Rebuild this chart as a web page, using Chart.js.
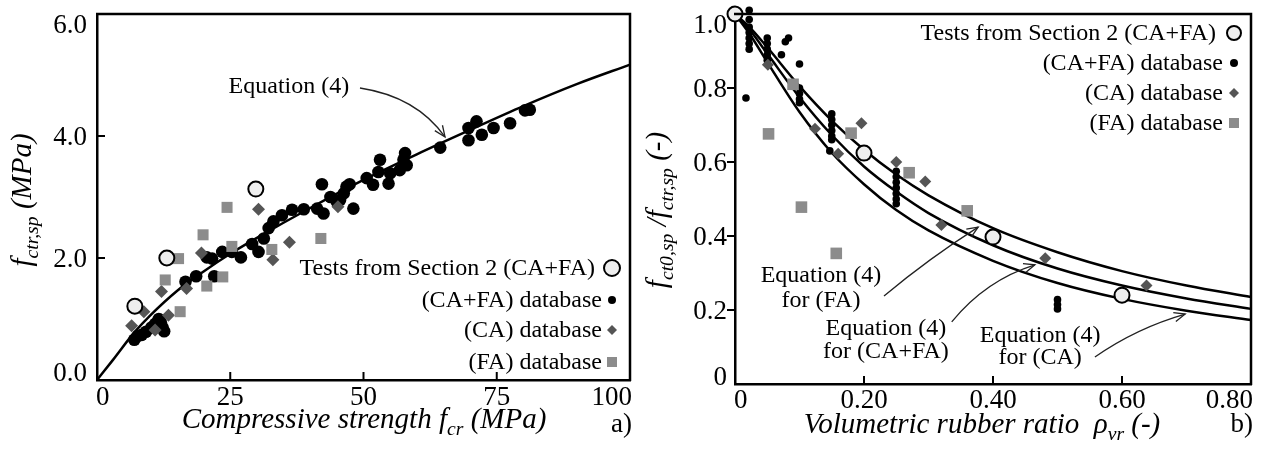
<!DOCTYPE html>
<html><head><meta charset="utf-8">
<script src="https://cdn.jsdelivr.net/npm/chart.js@4.4.1/dist/chart.umd.min.js"></script>
<style>
html,body{margin:0;padding:0;background:#fff;width:1263px;height:455px;overflow:hidden}
#wrap{position:relative;width:1263px;height:455px}
#c1{position:absolute;left:0;top:0}
#c2{position:absolute;left:632px;top:0}
</style></head><body>
<div id="wrap"><canvas id="c1" width="632" height="455"></canvas><canvas id="c2" width="631" height="455"></canvas></div>
<script>
// ---------- Panel a) data ----------
const eqAX = [0,3,7,10,15,20,25,30,40,50,60,70,80,90,100];
const eqAY = [0,0.33,0.78,1.06,1.46,1.78,2.07,2.33,2.82,3.28,3.70,4.10,4.49,4.85,5.17];
const testsA = [[7.1,1.21],[13.1,2.0],[29.8,3.13]];
const cafaA = [[7.0,0.66],[7.6,0.72],[8.4,0.74],[9.2,0.79],[10.2,0.86],[10.9,0.92],[11.6,1.0],[12.0,0.94],[12.3,0.86],[12.6,0.80],
  [16.6,1.61],[18.6,1.70],[20.6,2.01],[21.6,1.99],[22.0,1.70],[23.5,2.10],[25.3,2.10],[27.0,2.01],[29.1,2.23],[30.3,2.10],
  [31.3,2.32],[32.2,2.49],[33.1,2.60],[34.7,2.70],[36.6,2.79],[38.8,2.80],[41.3,2.81],[42.5,2.73],[42.2,3.21],[43.8,3.00],
  [45.0,2.92],[45.6,2.95],[46.3,3.06],[46.8,3.17],[47.4,3.21],[48.1,2.81],[50.6,3.31],[51.8,3.20],[52.8,3.41],[53.1,3.61],
  [54.7,3.22],[55.0,3.39],[56.8,3.44],[57.5,3.61],[57.8,3.72],[58.1,3.52],[64.4,3.81],[69.7,4.13],[71.2,4.24],[69.7,3.93],
  [72.2,4.02],[74.4,4.13],[77.5,4.21],[80.3,4.42],[81.2,4.43]];
const caA = [[6.5,0.89],[8.8,1.12],[10.9,0.82],[12.1,1.45],[13.4,1.06],[16.8,1.50],[19.6,2.08],[30.3,2.80],[33.0,1.97],[36.1,2.26],[45.2,2.84]];
const faA = [[12.8,1.64],[15.3,1.99],[15.6,1.12],[19.9,2.38],[20.6,1.54],[23.6,1.69],[24.4,2.83],[25.3,2.19],[32.8,2.14],[42.0,2.32]];
const xTicksA = [0,25,50,75,100];
const xLabelsA = ['0','25','50','75','100'];
const yTicksA = [0,2,4,6];
const yLabelsA = ['0.0','2.0','4.0','6.0'];

// ---------- Panel b) data ----------
const eqBX = [0,0.025,0.05,0.1,0.15,0.2,0.25,0.3,0.4,0.5,0.6,0.7,0.8];
const eqB_FA = [1.0,0.96,0.91,0.805,0.712,0.633,0.566,0.51,0.421,0.356,0.305,0.266,0.235];
const eqB_CAFA = [1.0,0.952,0.893,0.775,0.673,0.588,0.52,0.462,0.375,0.312,0.266,0.231,0.203];
const eqB_CA = [1.0,0.94,0.87,0.735,0.625,0.54,0.47,0.415,0.333,0.273,0.23,0.198,0.173];
const testsB = [[0,1.0],[0.2,0.624],[0.4,0.397],[0.6,0.24]];
const cafaB = [[0.022,1.01],[0.022,0.985],[0.022,0.965],[0.022,0.95],[0.022,0.935],[0.022,0.92],[0.022,0.905],[0.017,0.773],
  [0.05,0.935],[0.05,0.92],[0.05,0.905],[0.05,0.89],[0.05,0.875],[0.072,0.89],[0.078,0.925],[0.083,0.935],[0.1,0.865],
  [0.1,0.80],[0.1,0.785],[0.1,0.77],[0.1,0.76],
  [0.15,0.73],[0.15,0.715],[0.15,0.70],[0.15,0.685],[0.15,0.67],[0.15,0.66],[0.147,0.63],
  [0.25,0.575],[0.25,0.56],[0.25,0.545],[0.25,0.53],[0.25,0.515],[0.25,0.50],[0.25,0.487],
  [0.5,0.228],[0.5,0.215],[0.5,0.203]];
const caB = [[0.051,0.863],[0.124,0.69],[0.16,0.622],[0.196,0.705],[0.25,0.60],[0.295,0.547],[0.32,0.43],[0.481,0.34],[0.638,0.266]];
const faB = [[0.052,0.676],[0.09,0.81],[0.103,0.478],[0.157,0.353],[0.18,0.678],[0.27,0.571],[0.36,0.468]];
const xTicksB = [0,0.2,0.4,0.6,0.8];
const xLabelsB = ['0','0.20','0.40','0.60','0.80'];
const yTicksB = [0,0.2,0.4,0.6,0.8,1.0];
const yLabelsB = ['0','0.2','0.4','0.6','0.8','1.0'];

const legendLabels = ['Tests from Section 2 (CA+FA)','(CA+FA) database','(CA) database','(FA) database'];

// ---------- helpers ----------
const FONT = '"Liberation Serif","Times New Roman",serif';
const pts = a => a.map(p => ({x:p[0], y:p[1]}));
const line = (xs, ys) => xs.map((x,i) => ({x, y: ys[i]}));

function drawRich(ctx, segs, size, x, y, rot) {
  ctx.save();
  let total = 0;
  const ms = segs.map(s => {
    const fs = s.sub ? size*0.68 : size;
    const f = (s.it ? 'italic ' : '') + fs + 'px ' + FONT;
    ctx.font = f;
    const w = ctx.measureText(s.t).width;
    total += w;
    return {s, f, w, dy: s.sub ? size*0.24 : 0};
  });
  ctx.translate(x, y);
  if (rot) ctx.rotate(rot);
  let cx = -total/2;
  ctx.textBaseline = 'alphabetic'; ctx.textAlign = 'left'; ctx.fillStyle = '#000';
  ms.forEach(m => { ctx.font = m.f; ctx.fillText(m.s.t, cx, m.dy); cx += m.w; });
  ctx.restore();
}
function arrow(ctx, p0, c, p1) {
  ctx.save();
  ctx.strokeStyle = '#222'; ctx.lineWidth = 1.3;
  ctx.beginPath(); ctx.moveTo(p0.x, p0.y); ctx.quadraticCurveTo(c.x, c.y, p1.x, p1.y); ctx.stroke();
  const ang = Math.atan2(p1.y - c.y, p1.x - c.x), L = 12, a = 0.4;
  ctx.beginPath();
  ctx.moveTo(p1.x - L*Math.cos(ang - a), p1.y - L*Math.sin(ang - a));
  ctx.lineTo(p1.x, p1.y);
  ctx.lineTo(p1.x - L*Math.cos(ang + a), p1.y - L*Math.sin(ang + a));
  ctx.stroke();
  ctx.restore();
}
function marker(ctx, kind, x, y, s) {
  ctx.save();
  ctx.beginPath();
  if (kind === 'open') { ctx.arc(x, y, s.r, 0, Math.PI*2); ctx.fillStyle = '#eeeeee'; ctx.fill(); ctx.lineWidth = 2; ctx.strokeStyle = '#000'; ctx.stroke(); }
  else if (kind === 'dot') { ctx.arc(x, y, s.r, 0, Math.PI*2); ctx.fillStyle = '#000'; ctx.fill(); }
  else if (kind === 'dia') { ctx.moveTo(x, y - s.r); ctx.lineTo(x + s.r, y); ctx.lineTo(x, y + s.r); ctx.lineTo(x - s.r, y); ctx.closePath(); ctx.fillStyle = '#555'; ctx.fill(); }
  else { ctx.rect(x - s.r, y - s.r, 2*s.r, 2*s.r); ctx.fillStyle = '#8c8c8c'; ctx.fill(); }
  ctx.restore();
}

function decor(spec) {
  return {
    id: 'decor',
    afterDraw(chart) {
      const ctx = chart.ctx, a = chart.chartArea, sx = chart.scales.x, sy = chart.scales.y;
      ctx.save();
      // top and right frame
      ctx.strokeStyle = '#000'; ctx.lineWidth = 2.5;
      ctx.beginPath(); ctx.moveTo(a.left - 1, a.top); ctx.lineTo(a.right, a.top); ctx.lineTo(a.right, a.bottom + 1); ctx.stroke();
      // tick marks
      ctx.lineWidth = 2;
      spec.xTicks.forEach(v => { if (v === sx.min || v === sx.max) return; const px = sx.getPixelForValue(v);
        ctx.beginPath(); ctx.moveTo(px, a.bottom); ctx.lineTo(px, a.bottom - 8); ctx.stroke(); });
      spec.yTicks.forEach(v => { if (v === sy.min || v === sy.max) return; const py = sy.getPixelForValue(v);
        ctx.beginPath(); ctx.moveTo(a.left, py); ctx.lineTo(a.left + spec.yTickDir*8, py); ctx.stroke(); });
      // tick labels
      ctx.fillStyle = '#000'; ctx.font = spec.tickSize + 'px ' + FONT; ctx.textBaseline = 'alphabetic';
      ctx.textAlign = 'left';
      spec.xTicks.forEach((v, i) => { const t = spec.xLabels[i]; const w = ctx.measureText(t).width;
        let cx = sx.getPixelForValue(v); cx = Math.max(a.left + w/2 - 1, Math.min(a.right - w/2 + 2, cx));
        ctx.fillText(t, cx - w/2, spec.xLabelBase); });
      ctx.textAlign = 'right';
      spec.yTicks.forEach((v, i) => { let cy = sy.getPixelForValue(v); cy = Math.max(a.top + 10, Math.min(a.bottom - 7.5, cy));
        ctx.fillText(spec.yLabels[i], a.left - spec.yLabelGap, cy + 8.5); });
      // axis titles
      drawRich(ctx, spec.xTitle, spec.titleSize, spec.xTitlePos[0], spec.xTitlePos[1], 0);
      drawRich(ctx, spec.yTitle, spec.titleSize, spec.yTitlePos[0], spec.yTitlePos[1], -Math.PI/2);
      // panel letter
      ctx.font = '27px ' + FONT; ctx.textAlign = 'right';
      ctx.fillText(spec.letter, a.right + 2, spec.letterBase);
      // legend
      ctx.font = '24px ' + FONT; ctx.textAlign = 'right';
      const kinds = ['open','dot','dia','sq'];
      spec.legendY.forEach((y, i) => {
        const mx = a.right - spec.legendMarkOff;
        ctx.fillStyle = '#000';
        ctx.fillText(legendLabels[i], mx - (i === 0 ? spec.legendGap0 : spec.legendGap), y + 7);
        marker(ctx, kinds[i], mx, y, {r: spec.legendR[i]});
      });
      // annotations
      ctx.font = '24px ' + FONT; ctx.textAlign = 'center'; ctx.fillStyle = '#000';
      spec.notes.forEach(n => {
        n.lines.forEach((t, j) => ctx.fillText(t, sx.getPixelForValue(n.x), sy.getPixelForValue(n.base[j])));
        const P = q => ({x: sx.getPixelForValue(q[0]), y: sy.getPixelForValue(q[1])});
        arrow(ctx, P(n.arrow[0]), P(n.arrow[1]), P(n.arrow[2]));
      });
      ctx.restore();
    }
  };
}

function baseOptions(xmin, xmax, ymin, ymax, yW, xH, pad) {
  return {
    responsive: false, animation: false, devicePixelRatio: 1, events: [],
    layout: {padding: pad, autoPadding: false},
    plugins: {legend: {display: false}, tooltip: {enabled: false}},
    scales: {
      x: {type: 'linear', min: xmin, max: xmax, ticks: {display: false}, grid: {display: false},
          border: {display: true, color: '#000', width: 2.5}, afterFit: s => { s.height = xH; }},
      y: {type: 'linear', min: ymin, max: ymax, ticks: {display: false}, grid: {display: false},
          border: {display: true, color: '#000', width: 2.5}, afterFit: s => { s.width = yW; }}
    }
  };
}
const curve = (d) => ({data: d, showLine: true, pointRadius: 0, borderColor: '#000', borderWidth: 2.5, fill: false, cubicInterpolationMode: 'monotone', clip: false});
const scat = (d, style, r, color, bw, bc) => ({data: pts(d), showLine: false, pointStyle: style, pointRadius: r, backgroundColor: color, borderColor: bc || color, borderWidth: bw || 0, clip: false});

// ---------- Chart a) ----------
new Chart(document.getElementById('c1'), {
  type: 'scatter',
  data: {datasets: [
    scat(testsA, 'circle', 7.5, '#eeeeee', 2, '#000'),
    scat(faA, 'rect', 7.8, '#8c8c8c'),
    scat(caA, 'rectRot', 6.5, '#555555'),
    curve(line(eqAX, eqAY)),
    scat(cafaA, 'circle', 6.3, '#000000')
  ]},
  options: baseOptions(0, 100, 0, 6, 97, 75, {top: 14, right: 2, left: 0, bottom: 0}),
  plugins: [decor({
    xTicks: xTicksA, xLabels: xLabelsA, yTicks: yTicksA, yLabels: yLabelsA, yTickDir: 1,
    tickSize: 27, xLabelBase: 405, yLabelGap: 10, titleSize: 29,
    xTitle: [{t: 'Compressive strength ', it: 1}, {t: 'f', it: 1}, {t: 'cr', it: 1, sub: 1}, {t: ' (MPa)', it: 1}],
    xTitlePos: [364, 428],
    yTitle: [{t: 'f', it: 1}, {t: 'ctr,sp', it: 1, sub: 1}, {t: ' (MPa)', it: 1}],
    yTitlePos: [31, 200],
    letter: 'a)', letterBase: 432,
    legendY: [268, 300, 330, 362], legendMarkOff: 18, legendGap0: 17, legendGap: 10, legendR: [8, 4, 5, 5],
    notes: [{x: 36.0, base: [4.705], lines: ['Equation (4)'], arrow: [[49.34, 4.787], [59.98, 4.644], [65.29, 3.984]]}]
  })]
});

// ---------- Chart b) ----------
new Chart(document.getElementById('c2'), {
  type: 'scatter',
  data: {datasets: [
    scat(testsB, 'circle', 7.5, '#eeeeee', 2, '#000'),
    scat(faB, 'rect', 8.2, '#8c8c8c'),
    scat(caB, 'rectRot', 6, '#555555'),
    curve(line(eqBX, eqB_FA)),
    curve(line(eqBX, eqB_CAFA)),
    curve(line(eqBX, eqB_CA)),
    scat(cafaB, 'circle', 3.8, '#000000')
  ]},
  options: baseOptions(0, 0.8, 0, 1.0, 103, 71, {top: 14, right: 12, left: 0, bottom: 0}),
  plugins: [decor({
    xTicks: xTicksB, xLabels: xLabelsB, yTicks: yTicksB, yLabels: yLabelsB, yTickDir: -1,
    tickSize: 27, xLabelBase: 408, yLabelGap: 8, titleSize: 29,
    xTitle: [{t: 'Volumetric rubber ratio  ', it: 1}, {t: 'ρ', it: 1}, {t: 'vr', it: 1, sub: 1}, {t: ' (-)', it: 1}],
    xTitlePos: [350, 433],
    yTitle: [{t: 'f', it: 1}, {t: 'ct0,sp', it: 1, sub: 1}, {t: ' /', it: 1}, {t: 'f', it: 1}, {t: 'ctr,sp', it: 1, sub: 1}, {t: ' (-)', it: 1}],
    yTitlePos: [34, 210],
    letter: 'b)', letterBase: 432,
    legendY: [33, 63, 93, 123], legendMarkOff: 17, legendGap0: 18, legendGap: 11, legendR: [7, 4, 5, 5],
    notes: [
      {x: 0.1333, base: [0.2757, 0.2081], lines: ['Equation (4)', 'for (FA)'], arrow: [[0.231, 0.238], [0.302, 0.341], [0.377, 0.424]]},
      {x: 0.234, base: [0.1324, 0.0703], lines: ['Equation (4)', 'for (CA+FA)'], arrow: [[0.336, 0.168], [0.389, 0.281], [0.465, 0.322]]},
      {x: 0.473, base: [0.1135, 0.054], lines: ['Equation (4)', 'for (CA)'], arrow: [[0.558, 0.073], [0.622, 0.151], [0.698, 0.189]]}
    ]
  })]
});
</script>
</body></html>
